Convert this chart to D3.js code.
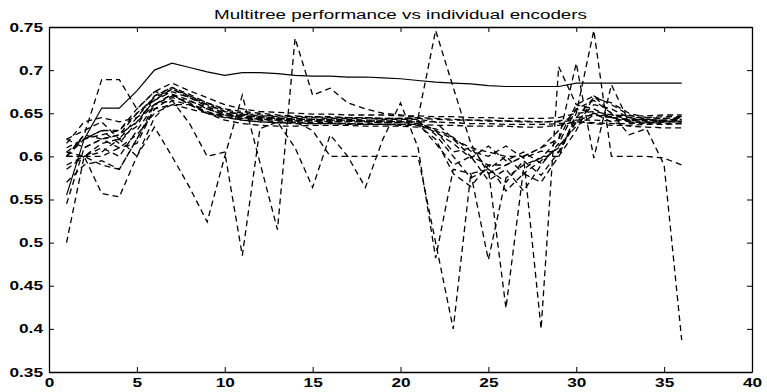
<!DOCTYPE html>
<html>
<head>
<meta charset="utf-8">
<script src="https://cdn.jsdelivr.net/npm/d3@7"></script>
<style>
  html, body { margin: 0; padding: 0; background: #fff; }
  svg { display: block; }
  text { font-family: "Liberation Sans", Arial, sans-serif; fill: #000; }
</style>
</head>
<body>
<svg id="chart" width="767" height="392"></svg>
<script>
// ---------- data ----------
const titleText = "Multitree performance vs individual encoders";
const xValues = d3.range(1, 37); // 1..36
const xTicks = [0, 5, 10, 15, 20, 25, 30, 35, 40];
const yTicks = [0.35, 0.4, 0.45, 0.5, 0.55, 0.6, 0.65, 0.7, 0.75];
const yTickLabels = ["0.35", "0.4", "0.45", "0.5", "0.55", "0.6", "0.65", "0.7", "0.75"];

// Multitree (solid line)
const multitree = [0.555,0.620,0.656,0.656,0.676,0.700,0.708,0.703,0.698,0.694,0.697,0.697,0.696,0.694,0.693,0.693,0.692,0.692,0.691,0.690,0.688,0.686,0.685,0.684,0.682,0.681,0.681,0.681,0.681,0.685,0.685,0.685,0.685,0.685,0.685,0.685];

// individual encoders (dashed lines)
const enc01 = [0.600,0.600,0.615,0.620,0.645,0.670,0.680,0.672,0.662,0.655,0.652,0.650,0.648,0.647,0.646,0.646,0.645,0.645,0.644,0.644,0.645,0.644,0.643,0.642,0.642,0.641,0.641,0.640,0.640,0.642,0.642,0.641,0.642,0.643,0.644,0.645];
const enc02 = [0.620,0.610,0.620,0.625,0.650,0.665,0.678,0.668,0.660,0.652,0.648,0.645,0.644,0.643,0.643,0.642,0.642,0.641,0.641,0.640,0.640,0.640,0.639,0.638,0.638,0.637,0.637,0.637,0.638,0.640,0.639,0.638,0.638,0.639,0.640,0.640];
const enc03 = [0.605,0.600,0.610,0.600,0.630,0.660,0.672,0.665,0.655,0.648,0.644,0.642,0.640,0.640,0.639,0.639,0.638,0.638,0.637,0.637,0.637,0.636,0.636,0.635,0.635,0.635,0.634,0.634,0.636,0.640,0.638,0.636,0.636,0.637,0.637,0.638];
const enc04 = [0.610,0.620,0.630,0.630,0.655,0.675,0.685,0.676,0.668,0.660,0.655,0.652,0.651,0.650,0.649,0.649,0.648,0.648,0.648,0.647,0.647,0.646,0.646,0.645,0.645,0.644,0.644,0.644,0.645,0.650,0.652,0.648,0.647,0.647,0.648,0.648];
const enc05 = [0.615,0.640,0.645,0.640,0.645,0.660,0.670,0.662,0.650,0.642,0.638,0.636,0.635,0.635,0.636,0.636,0.636,0.635,0.635,0.635,0.634,0.632,0.622,0.606,0.600,0.612,0.598,0.606,0.605,0.640,0.650,0.640,0.635,0.634,0.633,0.633];
const enc06 = [0.590,0.600,0.600,0.610,0.625,0.650,0.660,0.660,0.655,0.648,0.645,0.643,0.642,0.641,0.641,0.640,0.640,0.640,0.639,0.639,0.638,0.615,0.590,0.600,0.572,0.585,0.560,0.590,0.615,0.655,0.665,0.650,0.642,0.640,0.640,0.640];
const enc07 = [0.600,0.620,0.630,0.615,0.640,0.665,0.675,0.668,0.658,0.650,0.646,0.644,0.643,0.642,0.642,0.641,0.641,0.641,0.640,0.640,0.640,0.630,0.605,0.610,0.585,0.600,0.580,0.595,0.610,0.640,0.660,0.655,0.645,0.642,0.642,0.643];
const enc08 = [0.585,0.600,0.605,0.620,0.600,0.645,0.665,0.660,0.652,0.646,0.642,0.640,0.639,0.638,0.638,0.638,0.637,0.637,0.637,0.636,0.636,0.620,0.580,0.565,0.590,0.560,0.580,0.570,0.600,0.630,0.670,0.660,0.648,0.643,0.641,0.640];
const enc09 = [0.600,0.625,0.620,0.610,0.615,0.655,0.668,0.664,0.657,0.650,0.647,0.645,0.644,0.644,0.643,0.643,0.643,0.642,0.642,0.642,0.642,0.625,0.600,0.575,0.585,0.570,0.595,0.578,0.605,0.645,0.668,0.662,0.650,0.645,0.644,0.644];
const enc10 = [0.570,0.590,0.595,0.585,0.620,0.655,0.660,0.655,0.650,0.645,0.642,0.640,0.639,0.639,0.638,0.638,0.638,0.637,0.637,0.637,0.637,0.628,0.615,0.598,0.612,0.595,0.605,0.592,0.612,0.635,0.648,0.645,0.640,0.639,0.638,0.638];
const enc11 = [0.620,0.630,0.640,0.620,0.635,0.670,0.680,0.670,0.662,0.654,0.650,0.648,0.647,0.646,0.646,0.645,0.645,0.645,0.644,0.644,0.644,0.643,0.642,0.642,0.641,0.641,0.640,0.640,0.641,0.645,0.648,0.646,0.645,0.645,0.646,0.646];
const enc12 = [0.600,0.625,0.689,0.689,0.655,0.675,0.672,0.660,0.650,0.645,0.644,0.643,0.642,0.642,0.641,0.641,0.641,0.640,0.640,0.640,0.640,0.630,0.620,0.610,0.605,0.600,0.600,0.400,0.704,0.660,0.655,0.645,0.642,0.641,0.641,0.642];
const enc13 = [0.500,0.600,0.557,0.553,0.600,0.634,0.600,0.564,0.524,0.600,0.671,0.593,0.515,0.737,0.671,0.679,0.662,0.655,0.650,0.648,0.645,0.746,0.680,0.615,0.580,0.590,0.600,0.610,0.630,0.655,0.650,0.645,0.643,0.642,0.642,0.643];
const enc14 = [0.545,0.610,0.620,0.625,0.640,0.660,0.665,0.638,0.600,0.605,0.485,0.632,0.640,0.610,0.564,0.625,0.600,0.564,0.620,0.662,0.610,0.482,0.585,0.580,0.480,0.575,0.590,0.598,0.620,0.708,0.598,0.683,0.640,0.638,0.640,0.641];
const enc15 = [0.600,0.600,0.590,0.585,0.620,0.660,0.672,0.660,0.650,0.648,0.647,0.646,0.645,0.640,0.630,0.600,0.600,0.600,0.600,0.600,0.600,0.500,0.400,0.580,0.585,0.424,0.585,0.600,0.600,0.650,0.746,0.600,0.600,0.600,0.598,0.590];
const enc16 = [0.605,0.620,0.625,0.630,0.650,0.668,0.678,0.670,0.660,0.652,0.649,0.647,0.646,0.645,0.645,0.644,0.644,0.644,0.643,0.643,0.643,0.640,0.620,0.600,0.590,0.590,0.600,0.610,0.620,0.660,0.670,0.650,0.625,0.632,0.590,0.387];

const encoders = [enc01, enc02, enc03, enc04, enc05, enc06, enc07, enc08,
                  enc09, enc10, enc11, enc12, enc13, enc14, enc15, enc16];

// ---------- layout ----------
const svg = d3.select("#chart");
const x = d3.scaleLinear().domain([0, 40]).range([49, 752]);
const y = d3.scaleLinear().domain([0.35, 0.75]).range([372, 27]);
const STRETCH = 1.38;

const line = d3.line().x((d, i) => x(xValues[i])).y(d => y(d));

// dashed encoder lines
svg.append("g")
  .selectAll("path")
  .data(encoders)
  .join("path")
  .attr("d", line)
  .attr("fill", "none")
  .attr("stroke", "#000")
  .attr("stroke-width", 1.3)
  .attr("stroke-dasharray", "6,4");

// solid multitree line
svg.append("path")
  .datum(multitree)
  .attr("d", line)
  .attr("fill", "none")
  .attr("stroke", "#000")
  .attr("stroke-width", 1.2);

// axes (ticks pointing inward, MATLAB box)
const fontSize = "12.5px";
const gB = svg.append("g").attr("transform", `translate(0,${y(0.35)})`)
  .call(d3.axisBottom(x).tickValues(xTicks).tickSize(-5).tickSizeOuter(0).tickPadding(6).tickFormat(d3.format("d")));
const gL = svg.append("g").attr("transform", `translate(${x(0)},0)`)
  .call(d3.axisLeft(y).tickValues(yTicks).tickSize(-5).tickSizeOuter(0).tickPadding(5)
        .tickFormat((d, i) => yTickLabels[i]));
const gT = svg.append("g").attr("transform", `translate(0,${y(0.75)})`)
  .call(d3.axisTop(x).tickValues(xTicks).tickSize(-5).tickSizeOuter(0).tickFormat(""));
const gR = svg.append("g").attr("transform", `translate(${x(40)},0)`)
  .call(d3.axisRight(y).tickValues(yTicks).tickSize(-5).tickSizeOuter(0).tickFormat(""));

[gB, gL, gT, gR].forEach(g => {
  g.selectAll("path.domain").attr("stroke", "#000").attr("stroke-width", 1.3);
  g.selectAll(".tick line").attr("stroke", "#000").attr("stroke-width", 1);
  g.selectAll("text")
    .style("font-family", '"Liberation Sans", Arial, sans-serif')
    .style("font-size", fontSize)
    .style("font-weight", "bold")
    .attr("fill", "#000");
});

// stretch tick labels horizontally like the reference font
svg.selectAll(".tick text").each(function() {
  const w = this.getComputedTextLength();
  if (w > 0) {
    d3.select(this).attr("textLength", w * STRETCH).attr("lengthAdjust", "spacingAndGlyphs");
  }
});
gL.selectAll(".tick text").attr("x", -6);

// title
svg.append("text")
  .attr("x", (x(0) + x(40)) / 2)
  .attr("y", 19)
  .attr("text-anchor", "middle")
  .style("font-size", "12.5px")
  .style("font-weight", "normal")
  .attr("textLength", 373)
  .attr("lengthAdjust", "spacingAndGlyphs")
  .text(titleText);
</script>
</body>
</html>
